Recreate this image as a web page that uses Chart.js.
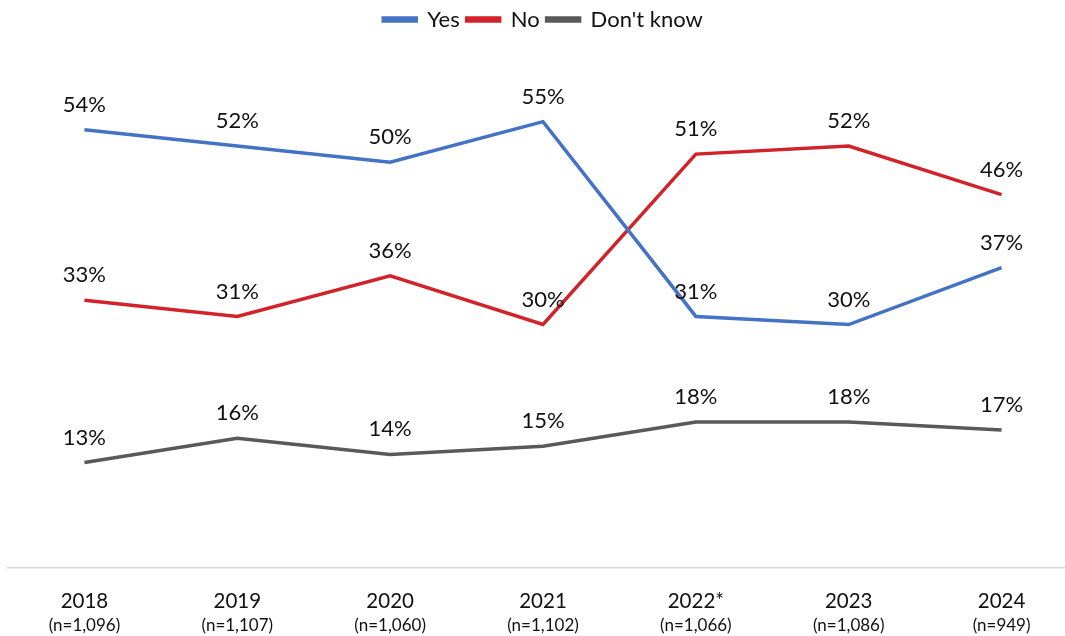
<!DOCTYPE html>
<html>
<head>
<meta charset="utf-8">
<script src="https://cdn.jsdelivr.net/npm/chart.js@4.4.1/dist/chart.umd.min.js"></script>
<style>
  html, body { margin: 0; padding: 0; background: #fff; overflow: hidden; }
  #wrap { width: 1078px; height: 636px; }
</style>
</head>
<body>
<div id="wrap"><canvas id="trendChart" width="1078" height="636"></canvas></div>
<script>
const years = ['2018', '2019', '2020', '2021', '2022*', '2023', '2024'];
const sampleSizes = ['(n=1,096)', '(n=1,107)', '(n=1,060)', '(n=1,102)', '(n=1,066)', '(n=1,086)', '(n=949)'];
const yesValues = [54, 52, 50, 55, 31, 30, 37];
const noValues = [33, 31, 36, 30, 51, 52, 46];
const dontKnowValues = [13, 16, 14, 15, 18, 18, 17];

const FONT = 'Lato, "Open Sans", sans-serif';

// percent labels above each point
const pointLabels = {
    id: 'pointLabels',
    afterDatasetsDraw(chart) {
        const ctx = chart.ctx;
        ctx.save();
        ctx.font = '22px ' + FONT;
        ctx.fillStyle = '#111';
        ctx.textAlign = 'center';
        ctx.textBaseline = 'middle';
        chart.data.datasets.forEach((ds, i) => {
            const meta = chart.getDatasetMeta(i);
            meta.data.forEach((pt, j) => {
                ctx.fillText(ds.data[j] + '%', pt.x, pt.y - 25);
            });
        });
        ctx.restore();
    }
};

const ctx = document.getElementById('trendChart').getContext('2d');
const trendChart = new Chart(ctx, {
    type: 'line',
    data: {
        labels: years,
        datasets: [
            { label: 'Yes', data: yesValues, borderColor: '#4472C4', backgroundColor: '#4472C4' },
            { label: 'No', data: noValues, borderColor: '#D2232A', backgroundColor: '#D2232A' },
            { label: "Don't know", data: dontKnowValues, borderColor: '#595959', backgroundColor: '#595959' }
        ]
    },
    options: {
        responsive: false,
        animation: false,
        layout: { padding: { left: 8, right: 0, top: 1.5, bottom: 0 } },
        elements: {
            line: { borderWidth: 3.5, tension: 0 },
            point: { radius: 0, hoverRadius: 0 }
        },
        plugins: {
            legend: {
                position: 'top',
                labels: {
                    font: { family: FONT, size: 22 },
                    color: '#111',
                    boxWidth: 33,
                    boxHeight: 3,
                    padding: 7
                }
            },
            tooltip: { enabled: false }
        },
        scales: {
            y: {
                display: false,
                min: 0,
                max: 65
            },
            x: {
                offset: true,
                grid: { display: false, drawTicks: false },
                border: { display: true, color: '#D9D9D9', width: 1.5 },
                ticks: {
                    font: { family: FONT, size: 20.5 },
                    color: '#111',
                    padding: 21,
                    maxRotation: 0
                },
                afterFit(scale) { scale.height = 40; }
            },
            x2: {
                type: 'category',
                labels: sampleSizes,
                position: 'bottom',
                offset: true,
                grid: { display: false, drawTicks: false },
                border: { display: false },
                ticks: {
                    font: { family: FONT, size: 17 },
                    color: '#111',
                    padding: 7,
                    maxRotation: 0
                },
                afterFit(scale) { scale.height = 28; }
            }
        }
    },
    plugins: [pointLabels]
});
</script>
</body>
</html>
